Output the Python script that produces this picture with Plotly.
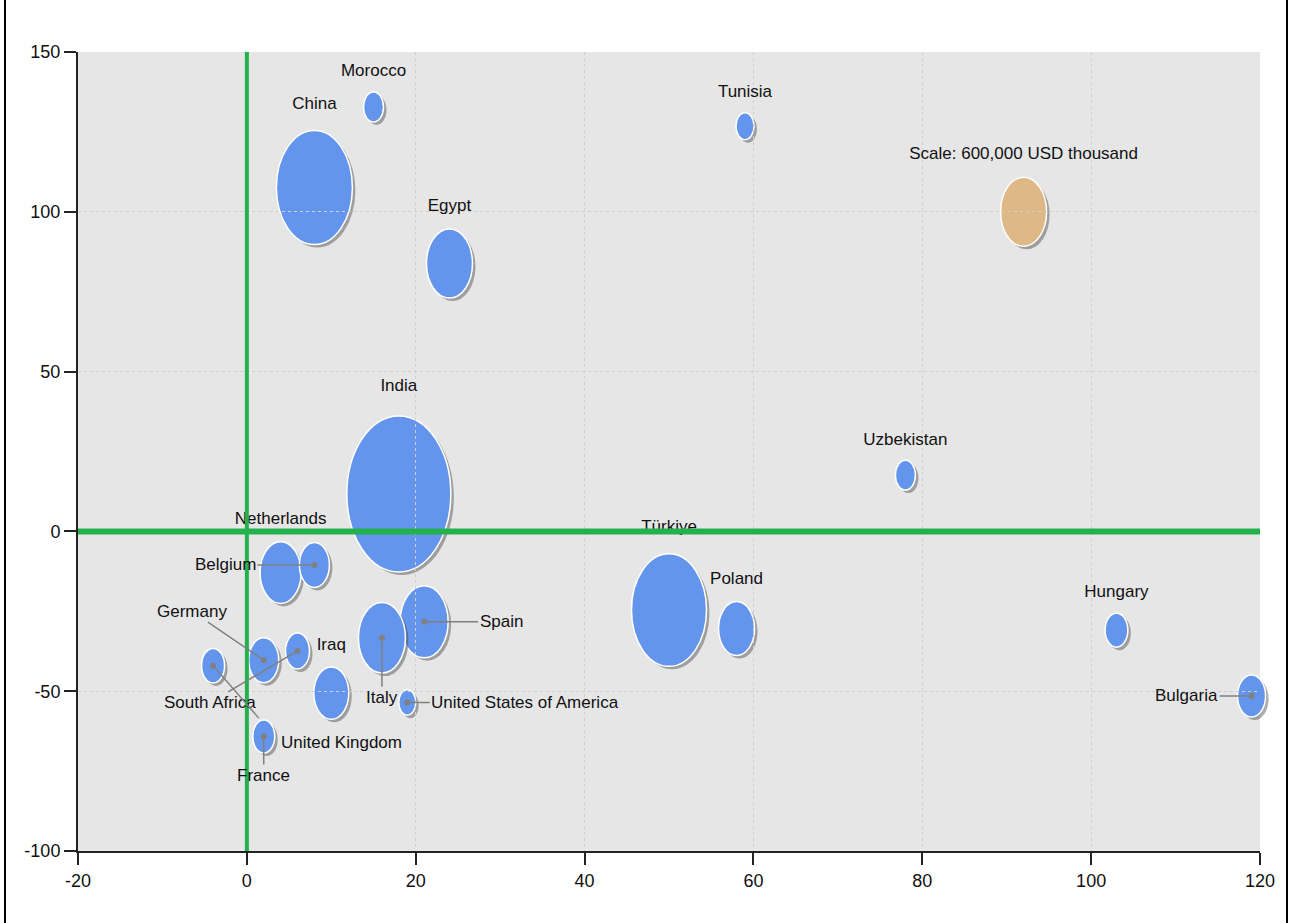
import numpy as np
import plotly.graph_objects as go

# ---------------- data ----------------
# bubbles whose label sits above the bubble
top_countries = ["China", "Morocco", "Egypt", "Tunisia", "India", "Uzbekistan",
                 "Netherlands", "Türkiye", "Poland", "Hungary", "Iraq"]
top_x = [8, 15, 24, 59, 18, 78, 4, 50, 58, 103, 10]
top_y = [107.6, 132.8, 83.8, 126.8, 11.7, 17.6, -12.9, -24.6, -30.4, -30.9, -50.6]
top_value = [1638000, 113000, 600000, 92000, 3067000, 113000,
             477000, 1595000, 367000, 146000, 347000]

# bubbles whose label is joined by a leader line
lead_countries = ["Belgium", "Germany", "South Africa", "United Kingdom", "France",
                  "Spain", "Italy", "United States of America", "Bulgaria"]
lead_x = [8, 2, 6, -4, 2, 21, 16, 19, 119]
lead_y = [-10.5, -40.3, -37.4, -42.0, -64.2, -28.3, -33.3, -53.5, -51.5]
lead_value = [255000, 255000, 163000, 150000, 137000, 653000, 626000, 82000, 222000]

# scale bubble
scale_label = ["Scale: 600,000 USD thousand"]
scale_x = [92]
scale_y = [100]
scale_value = [600000]

x_ticks = [-20, 0, 20, 40, 60, 80, 100, 120]
y_ticks = [-100, -50, 0, 50, 100, 150]

# ---------------- style ----------------
W, H = 1293, 923
ML, MR, MT, MB = 78, 33, 52, 72
FONT = "Liberation Sans, Arial, sans-serif"
TXT = "#111111"
BLUE = "#6495ED"
TAN = "#DEB887"
GREEN = "#22B14C"
REF_W = 46.0       # pixel width of the 600,000 reference bubble
ASPECT = 1.5       # bubbles are drawn as tall ellipses
LABEL_FS = 17

# pixel offsets (label centre relative to bubble centre) for leader-line labels
lead_offsets = {
    "Belgium": (-89, 0),
    "Germany": (-72, -49),
    "South Africa": (-88, 52),
    "United Kingdom": (128, 77),
    "France": (0, 39),
    "Spain": (77, 0),
    "Italy": (0, 60),
    "United States of America": (118, 0),
    "Bulgaria": (-65, 0),
}
uk_line_end = (47, 54)

XR = [x_ticks[0], x_ticks[-1]]
YR = [y_ticks[0], y_ticks[-1]]


def widths(vals):
    return [REF_W * np.sqrt(v / 600000.0) for v in vals]


def to_paper(v, rng):
    return (v - rng[0]) / (rng[1] - rng[0])


fig = go.Figure()
shapes = []


def add_bubbles(xs, ys, vals, color):
    # anchored in paper units (same linear axis mapping) so edge bubbles are not clipped
    for x, y, w in zip(xs, ys, widths(vals)):
        h = w * ASPECT
        xa, ya = to_paper(x, XR), to_paper(y, YR)
        shapes.append(dict(type="circle", layer="between", xref="paper", yref="paper",
                           xsizemode="pixel", ysizemode="pixel", xanchor=xa, yanchor=ya,
                           x0=-w / 2 + 3, x1=w / 2 + 3, y0=-h / 2 - 3, y1=h / 2 - 3,
                           fillcolor="rgba(70,70,70,0.45)", line=dict(width=0)))
        shapes.append(dict(type="circle", layer="between", xref="paper", yref="paper",
                           xsizemode="pixel", ysizemode="pixel", xanchor=xa, yanchor=ya,
                           x0=-w / 2, x1=w / 2, y0=-h / 2, y1=h / 2,
                           fillcolor=color, line=dict(color="white", width=1.5)))


add_bubbles(top_x, top_y, top_value, BLUE)
add_bubbles(lead_x, lead_y, lead_value, BLUE)
add_bubbles(scale_x, scale_y, scale_value, TAN)


# labels above bubbles: invisible markers sized so the text clears the bubble
def label_sizes(vals):
    return [0.92 * (w * ASPECT) + 13 for w in widths(vals)]


invisible = dict(color="rgba(0,0,0,0)", opacity=0, line=dict(width=0))

fig.add_trace(go.Scatter(
    x=top_x + scale_x, y=top_y + scale_y, mode="markers+text",
    text=top_countries + scale_label, textposition="top center",
    textfont=dict(family=FONT, size=LABEL_FS, color=TXT),
    marker=dict(size=label_sizes(top_value + scale_value), **invisible),
    customdata=top_value + scale_value, cliponaxis=False,
    hovertemplate="%{text}<br>x: %{x}<br>y: %{y}<br>value: %{customdata:,}<extra></extra>",
    showlegend=False))

fig.add_trace(go.Scatter(
    x=lead_x, y=lead_y, mode="markers", text=lead_countries,
    marker=dict(size=10, **invisible), customdata=lead_value,
    hovertemplate="%{text}<br>x: %{x}<br>y: %{y}<br>value: %{customdata:,}<extra></extra>",
    showlegend=False))

annotations = []
for name, x, y in zip(lead_countries, lead_x, lead_y):
    ax, ay = lead_offsets[name]
    if name == "United Kingdom":
        annotations.append(dict(x=x, y=y, xref="x", yref="y", text="",
                                showarrow=True, ax=uk_line_end[0], ay=uk_line_end[1],
                                arrowhead=6, arrowsize=1, arrowwidth=1.5,
                                arrowcolor="#808080", font=dict(size=1)))
        annotations.append(dict(x=x, y=y, xref="x", yref="y", text=name,
                                showarrow=False, xshift=ax, yshift=-ay,
                                font=dict(family=FONT, size=LABEL_FS, color=TXT)))
    else:
        annotations.append(dict(x=x, y=y, xref="x", yref="y", text=name,
                                showarrow=True, ax=ax, ay=ay,
                                arrowhead=6, arrowsize=1, arrowwidth=1.5,
                                arrowcolor="#808080",
                                font=dict(family=FONT, size=LABEL_FS, color=TXT)))

# green reference lines at 0
shapes.append(dict(type="line", layer="above", xref="x", yref="y",
                   x0=0, x1=0, y0=YR[0], y1=YR[1],
                   line=dict(color=GREEN, width=4)))
shapes.append(dict(type="line", layer="above", xref="x", yref="y",
                   x0=XR[0], x1=XR[1], y0=0, y1=0,
                   line=dict(color=GREEN, width=6)))

# outer frame (left and right borders of the picture)
pw, ph = W - ML - MR, H - MT - MB
for px in (5, W - 6):
    xp = (px - ML) / pw
    shapes.append(dict(type="line", xref="paper", yref="paper",
                       x0=xp, x1=xp, y0=-MB / ph - 0.01, y1=1 + MT / ph + 0.01,
                       line=dict(color="black", width=2)))

axis_common = dict(showline=True, linecolor="#222222", linewidth=2, mirror=False,
                   ticks="outside", ticklen=12, tickwidth=2, tickcolor="#222222",
                   showgrid=True, gridcolor="#CFCFCF", griddash="dot", gridwidth=1,
                   zeroline=False, automargin=False,
                   tickfont=dict(family=FONT, size=18, color=TXT))

fig.update_layout(
    width=W, height=H,
    margin=dict(l=ML, r=MR, t=MT, b=MB),
    paper_bgcolor="white", plot_bgcolor="#E6E6E6",
    shapes=shapes, annotations=annotations,
    xaxis=dict(range=XR, tickvals=x_ticks,
               ticktext=[str(v) for v in x_ticks], **axis_common),
    yaxis=dict(range=YR, tickvals=y_ticks,
               ticktext=[str(v) for v in y_ticks], **axis_common),
    hovermode="closest",
)

fig.write_html("out.html",
               config={"displayModeBar": False},
               post_script="document.body.style.margin='0px';"
                           "document.body.style.overflow='hidden';")
